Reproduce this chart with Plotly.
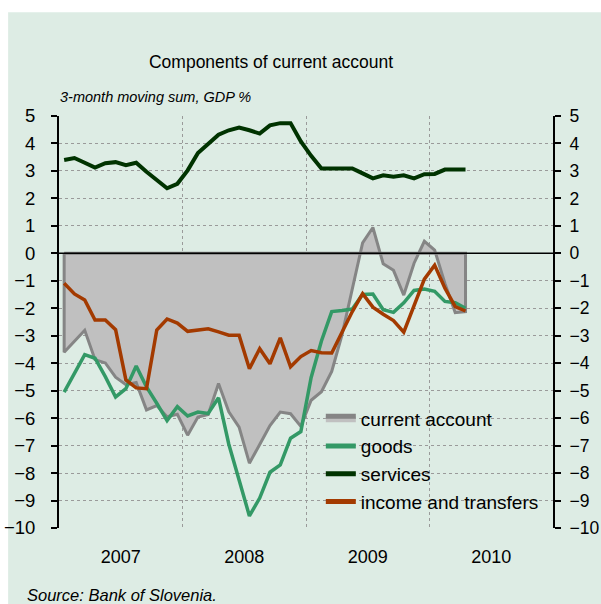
import plotly.graph_objects as go

# Monthly observations, January 2007 - April 2010 (3-month moving sums, % of GDP)
months = list(range(40))
current_account = [-3.60, -3.20, -2.80, -3.87, -3.99, -4.51, -4.78, -4.70, -5.70, -5.54,
                   -5.95, -5.86, -6.62, -5.96, -5.87, -4.74, -5.77, -6.33, -7.64, -6.96,
                   -6.27, -5.78, -5.84, -6.30, -5.35, -5.04, -4.30, -2.97, -1.35, 0.38,
                   0.94, -0.38, -0.62, -1.52, -0.36, 0.44, 0.12, -1.10, -2.16, -2.12]
goods = [-5.05, -4.37, -3.69, -3.82, -4.49, -5.23, -4.93, -4.10, -4.86, -5.46,
         -6.09, -5.58, -5.92, -5.78, -5.83, -5.26, -6.95, -8.25, -9.56, -8.91,
         -7.97, -7.70, -6.73, -6.49, -4.52, -3.19, -2.12, -2.08, -2.03, -1.50,
         -1.48, -2.05, -2.15, -1.80, -1.35, -1.30, -1.38, -1.75, -1.80, -2.00]
services = [3.40, 3.47, 3.30, 3.12, 3.28, 3.32, 3.21, 3.30, 2.97, 2.67,
            2.37, 2.53, 3.02, 3.65, 4.00, 4.32, 4.48, 4.58, 4.48, 4.36,
            4.66, 4.74, 4.74, 4.07, 3.55, 3.09, 3.09, 3.09, 3.09, 2.91,
            2.73, 2.84, 2.79, 2.84, 2.73, 2.88, 2.89, 3.05, 3.05, 3.05]
income_transfers = [-1.09, -1.48, -1.70, -2.43, -2.43, -2.78, -4.61, -4.90, -4.93, -2.79,
                    -2.39, -2.54, -2.84, -2.79, -2.75, -2.86, -2.98, -2.98, -4.20, -3.47,
                    -4.02, -3.08, -4.13, -3.76, -3.54, -3.62, -3.63, -2.87, -2.12, -1.47,
                    -1.96, -2.22, -2.45, -2.87, -1.87, -0.94, -0.43, -1.27, -1.94, -2.10]

years = ["2007", "2008", "2009", "2010"]
year_centres = [5.5, 17.5, 29.5, 41.5]
year_bounds = [11.5, 23.5, 35.5]
y_ticks = list(range(-10, 6))

FONT = "Liberation Sans, Arial, sans-serif"
BG = "#DDECE4"

fig = go.Figure()

# current account as a closed area between the series and zero
area_x = [months[0]] + months + [months[-1], months[0]]
area_y = [0] + current_account + [0, 0]
fig.add_trace(go.Scatter(x=area_x, y=area_y, name="current account", mode="lines",
                         fill="toself", fillcolor="#C0C0C0",
                         line=dict(color="#858585", width=3)))
fig.add_trace(go.Scatter(x=months, y=goods, name="goods", mode="lines",
                         line=dict(color="#339966", width=3.5)))
fig.add_trace(go.Scatter(x=months, y=services, name="services", mode="lines",
                         line=dict(color="#003300", width=4)))
fig.add_trace(go.Scatter(x=months, y=income_transfers, name="income and transfers", mode="lines",
                         line=dict(color="#A33A00", width=3.5)))

fig.update_layout(
    width=601, height=604,
    margin=dict(l=59, r=48, t=116, b=76),
    paper_bgcolor="white",
    plot_bgcolor="rgba(0,0,0,0)",
    font=dict(family=FONT, color="black"),
    title=dict(text="Components of current account", x=0.451, xref="container",
               y=0.897, yref="container", xanchor="center", yanchor="middle",
               font=dict(family=FONT, size=17.5, color="black")),
    showlegend=True,
    legend=dict(x=0.53, y=0.312, xanchor="left", yanchor="top",
                bgcolor="rgba(0,0,0,0)", font=dict(family=FONT, size=19, color="black"),
                itemsizing="constant"),
    xaxis=dict(range=[-0.5, 47.5], tickmode="array", tickvals=year_centres, ticktext=years,
               ticks="", showgrid=False, zeroline=False, showline=False, automargin=False,
               tickfont=dict(family=FONT, size=18, color="black"), ticklabelstandoff=16,
               minor=dict(tickmode="array", tickvals=year_bounds, showgrid=True,
                          griddash="dot", gridcolor="#9A9A9A", gridwidth=1, ticks="")),
    yaxis=dict(range=[-10, 5], tickmode="array", tickvals=y_ticks, showgrid=True,
               griddash="dot", gridcolor="#9A9A9A", gridwidth=1, zeroline=False,
               showline=True, linecolor="black", linewidth=2, ticks="outside",
               ticklen=6, tickcolor="black", tickwidth=1.5,
               tickfont=dict(family=FONT, size=18.5, color="black"),
               ticklabelstandoff=12, automargin=False),
    yaxis2=dict(range=[-10, 5], overlaying="y", side="right", anchor="x",
                tickmode="array", tickvals=y_ticks, showgrid=False, zeroline=False,
                showline=True, linecolor="black", linewidth=2, ticks="outside",
                ticklen=6, tickcolor="black", tickwidth=1.5,
                tickfont=dict(family=FONT, size=17.5, color="black"),
                ticklabelstandoff=5, automargin=False),
    shapes=[
        dict(type="rect", xref="paper", yref="paper", x0=-0.103, x1=1.2, y0=-0.3, y1=1.252,
             fillcolor=BG, line=dict(width=0), layer="below"),
        dict(type="line", xref="paper", yref="y", x0=0, x1=1, y0=0, y1=0,
             line=dict(color="black", width=1.5), layer="above"),
    ],
    annotations=[
        dict(text="<i>3-month moving sum, GDP %</i>", xref="paper", yref="paper",
             x=-0.003, y=1.046, xanchor="left", yanchor="middle", showarrow=False,
             font=dict(family=FONT, size=14.5, color="black")),
        dict(text="<i>Source: Bank of Slovenia.</i>", xref="paper", yref="paper",
             x=-0.068, y=-0.163, xanchor="left", yanchor="middle", showarrow=False,
             font=dict(family=FONT, size=16.5, color="black")),
    ],
)

# anchor the right-hand axis with a hidden copy of the services series
fig.add_trace(go.Scatter(x=months, y=services, yaxis="y2", mode="lines",
                         line=dict(width=0), hoverinfo="skip", showlegend=False, opacity=0))

fig.write_html("out.html")
